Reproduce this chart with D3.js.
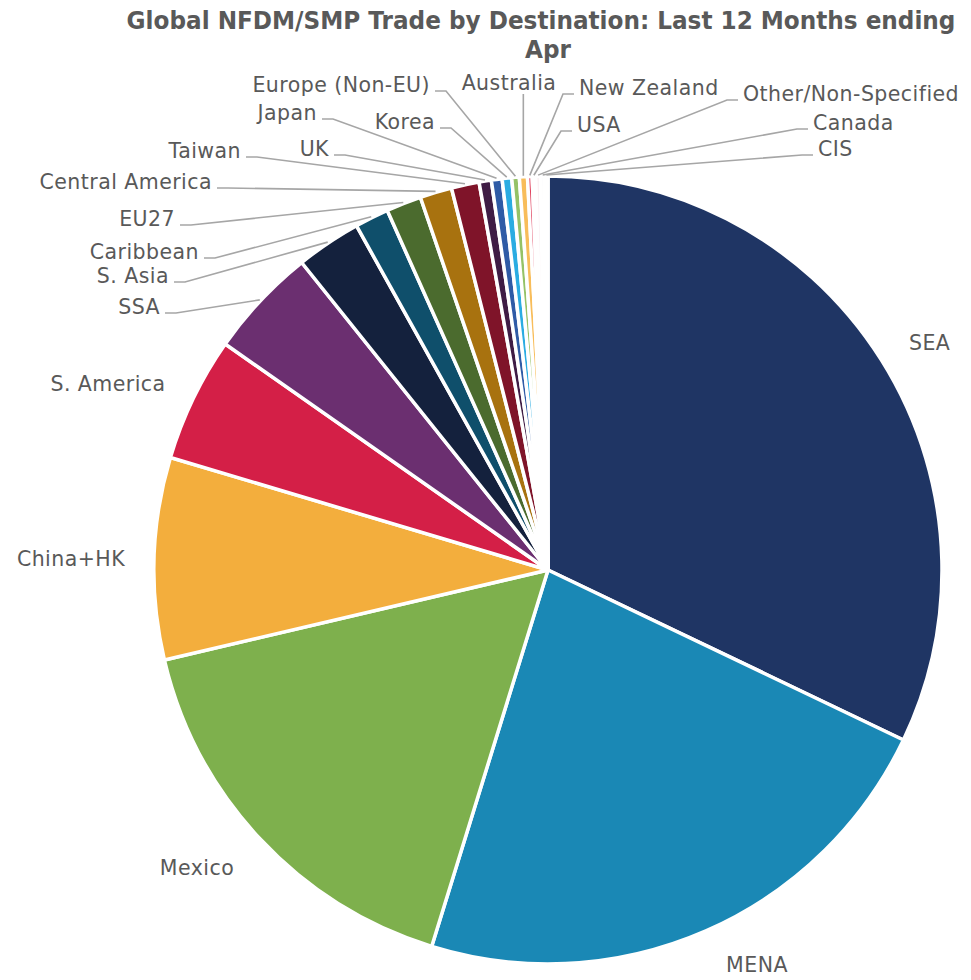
<!DOCTYPE html>
<html><head><meta charset="utf-8">
<script src="https://cdn.jsdelivr.net/npm/d3@7"></script>
<style>body{margin:0;background:#fff}</style>
</head><body><svg id="c" width="971" height="980"></svg>
<script>
const categories = ["SEA","MENA","Mexico","China+HK","S. America","SSA","S. Asia","Caribbean","EU27","Central America","Taiwan","UK","Japan","Korea","Europe (Non-EU)","Australia","New Zealand","USA","Other/Non-Specified","Canada","CIS"];
const shares = [32.1,22.67,16.56,8.28,5.11,4.53,2.67,1.39,1.44,1.31,1.14,0.5,0.44,0.39,0.31,0.33,0.19,0.14,0.2,0.17,0.13];
const colors = ["#1f3564","#1a88b5","#7eb04d","#f3ae3d","#d41f47","#6b2f70","#14213d","#0f4f6b","#4b6b2e","#a8720f","#7f1429","#3f1c45","#2f5ba6","#2aace2","#95c267","#f8bd5a","#e0435f","#efbccb","#fbf1f4","#fcfcfd","#fdfdfd"];
const titleLines = ["Global NFDM/SMP Trade by Destination: Last 12 Months ending","Apr"];
// label layout (text anchor point = visual middle of the text line)
const labelLayout = [
  {x:909,y:343,anchor:"start",leader:null},
  {x:757,y:965,anchor:"middle",leader:null},
  {x:197,y:868,anchor:"middle",leader:null},
  {x:71,y:559,anchor:"middle",leader:null},
  {x:108,y:384,anchor:"middle",leader:null},
  {x:160,y:307,anchor:"end",leader:"left"},
  {x:169,y:276,anchor:"end",leader:"left"},
  {x:199,y:252,anchor:"end",leader:"left"},
  {x:175,y:219,anchor:"end",leader:"left"},
  {x:212,y:182,anchor:"end",leader:"left"},
  {x:241,y:151,anchor:"end",leader:"left"},
  {x:329,y:149,anchor:"end",leader:"left"},
  {x:317,y:113,anchor:"end",leader:"left"},
  {x:435,y:122,anchor:"end",leader:"left"},
  {x:430,y:85,anchor:"end",leader:"left"},
  {x:509,y:83,anchor:"middle",leader:"up"},
  {x:579,y:88,anchor:"start",leader:"right"},
  {x:577,y:125,anchor:"start",leader:"right"},
  {x:743,y:94,anchor:"start",leader:"right"},
  {x:813,y:123,anchor:"start",leader:"right"},
  {x:818,y:149,anchor:"start",leader:"right"}
];

const svg = d3.select("#c");
const cx = 548, cy = 570, R = 394;
const textColor = "#595959", lineColor = "#a6a6a6";

// Title: measure natural width, then condense horizontally with a transform
const probe = svg.append("text").attr("font-family","DejaVu Sans").attr("font-weight","bold")
  .attr("font-size",24).text(titleLines[0]);
const ratio = 829 / probe.node().getComputedTextLength();
probe.remove();
titleLines.forEach((s,i)=>{
  const y = i === 0 ? 29 : 58;
  const x = i === 0 ? 541 : 548;
  svg.append("g").attr("transform",`translate(${x},${y}) scale(${ratio},1)`)
    .append("text").attr("x",0).attr("y",0).attr("text-anchor","middle")
    .attr("font-family","DejaVu Sans").attr("font-weight","bold").attr("font-size",24)
    .attr("fill",textColor).text(s);
});

const data = categories.map((c,i)=>({name:c, value:shares[i], color:colors[i], lab:labelLayout[i]}));
const pie = d3.pie().sort(null).value(d=>d.value).startAngle(0).endAngle(2*Math.PI);
const arcs = pie(data);
const arc = d3.arc().innerRadius(0).outerRadius(R);
const edge = d3.arc().innerRadius(R+1).outerRadius(R+1);

const g = svg.append("g").attr("transform",`translate(${cx},${cy})`);
g.selectAll("path.slice").data(arcs).join("path").attr("class","slice")
  .attr("d",arc).attr("fill",d=>d.data.color)
  .attr("stroke","#fff").attr("stroke-width",3.5).attr("stroke-linejoin","round");

// Labels with leader lines
const lg = svg.append("g").attr("font-family","DejaVu Sans").attr("font-size",20.5)
  .attr("letter-spacing",0.45).attr("fill",textColor);
const lines = svg.append("g").attr("fill","none").attr("stroke",lineColor).attr("stroke-width",1.6);
arcs.forEach(d=>{
  const L = d.data.lab;
  lg.append("text").attr("x",L.x).attr("y",L.y).attr("text-anchor",L.anchor)
    .attr("dominant-baseline","central").text(d.data.name);
  if (!L.leader) return;
  const [ex,ey] = edge.centroid(d);
  const px = cx+ex, py = cy+ey;
  const ly = L.y + 6;
  let pts;
  if (L.leader === "left") pts = [[L.x+5, ly],[L.x+16, ly],[px,py]];
  else if (L.leader === "right") pts = [[L.x-5, ly],[L.x-16, ly],[px,py]];
  else pts = [[px, L.y+11],[px,py]];
  lines.append("path").attr("d", d3.line()(pts));
});
</script></body></html>
